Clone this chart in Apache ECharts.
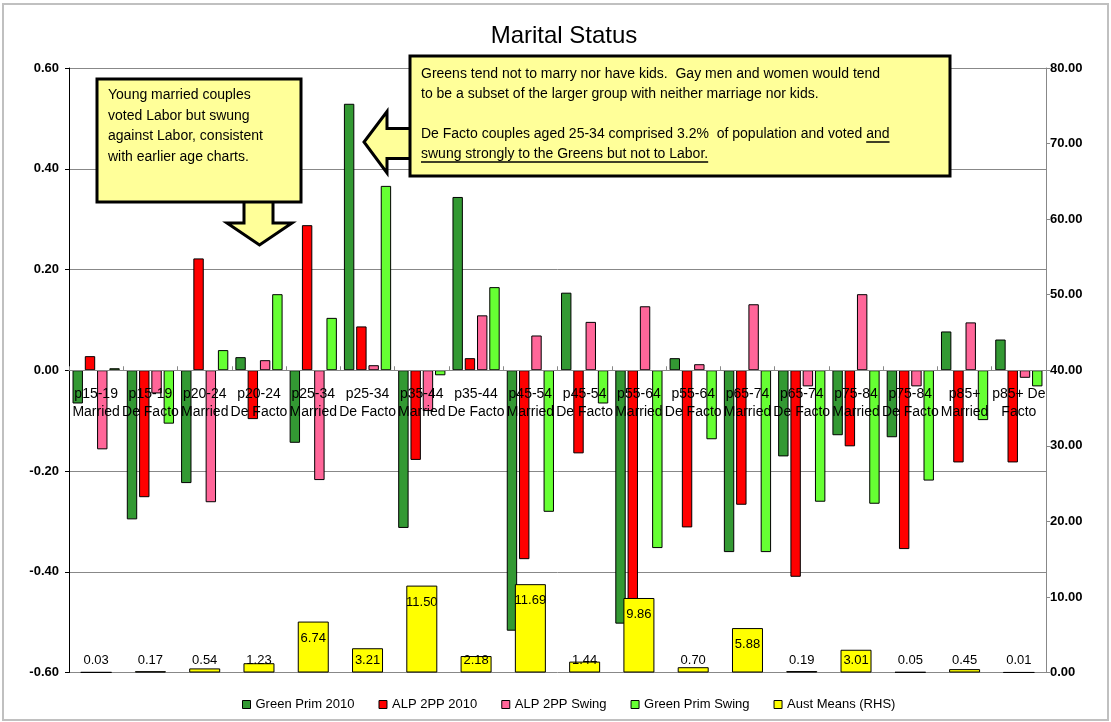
<!DOCTYPE html>
<html>
<head>
<meta charset="utf-8">
<title>Marital Status</title>
<script src="https://cdn.jsdelivr.net/npm/echarts@6/dist/echarts.min.js"></script>
<style>
  html, body { margin: 0; padding: 0; background: #fff; }
  #chart { width: 1111px; height: 722px; }
</style>
</head>
<body>
<div id="chart"></div>
<script>
let categories = [
  'p15-19\nMarried', 'p15-19\nDe Facto', 'p20-24\nMarried', 'p20-24\nDe Facto',
  'p25-34\nMarried', 'p25-34\nDe Facto', 'p35-44\nMarried', 'p35-44\nDe Facto',
  'p45-54\nMarried', 'p45-54\nDe Facto', 'p55-64\nMarried', 'p55-64\nDe Facto',
  'p65-74\nMarried', 'p65-74\nDe Facto', 'p75-84\nMarried', 'p75-84\nDe Facto',
  'p85+\nMarried', 'p85+ De\nFacto',
];
let greenPrim2010 = [-0.066, -0.296, -0.224, 0.026, -0.144, 0.529, -0.313, 0.344, -0.517, 0.154, -0.503, 0.024, -0.361, -0.171, -0.129, -0.133, 0.077, 0.061];
let alp2pp2010 = [0.028, -0.252, 0.222, -0.097, 0.288, 0.087, -0.178, 0.024, -0.375, -0.165, -0.47, -0.312, -0.267, -0.41, -0.151, -0.355, -0.183, -0.183];
let alp2ppSwing = [-0.157, -0.046, -0.262, 0.02, -0.218, 0.01, -0.081, 0.109, 0.069, 0.096, 0.127, 0.012, 0.131, -0.032, 0.151, -0.032, 0.095, -0.015];
let greenPrimSwing = [0.004, -0.106, 0.04, 0.151, 0.104, 0.366, -0.01, 0.165, -0.281, -0.066, -0.353, -0.137, -0.361, -0.261, -0.265, -0.219, -0.099, -0.032];
let austMeans = [0.03, 0.17, 0.54, 1.23, 6.74, 3.21, 11.5, 2.18, 11.69, 1.44, 9.86, 0.7, 5.88, 0.19, 3.01, 0.05, 0.45, 0.01];

let leftNote = [
  'Young married couples',
  'voted Labor but swung',
  'against Labor, consistent',
  'with earlier age charts.',
];
let rightNote = [
  'Greens tend not to marry nor have kids.  Gay men and women would tend',
  'to be a subset of the larger group with neither marriage nor kids.',
  '',
  'De Facto couples aged 25-34 comprised 3.2%  of population and voted ',
  'swung strongly to the Greens but not to Labor.',
];
let rightNoteTail = 'and';

const FONT = '"Liberation Sans", Arial, sans-serif';
const NOTE_FONT = '14px ' + FONT;
const NOTE_FILL = '#ffff99';

// plot box, the category axis sits on the zero line (half way down)
const GRID_TOP = 68;
const GRID_BOTTOM = 49.5;
const ZERO_SHIFT = (722 - GRID_TOP - GRID_BOTTOM) / 2;

function measure(txt) {
  let c = document.createElement('canvas').getContext('2d');
  c.font = NOTE_FONT;
  return c.measureText(txt).width;
}

function fmt2(v) {
  if (Math.abs(v) < 1e-9) v = 0;
  return v.toFixed(2);
}

function noteText(txt, x, y) {
  return {
    type: 'text', z: 101, x: x, y: y,
    style: { text: txt, font: NOTE_FONT, fill: '#000', textVerticalAlign: 'middle' },
  };
}

function underline(x1, x2, y) {
  return {
    type: 'line', z: 101,
    shape: { x1: x1, y1: y, x2: x2, y2: y },
    style: { stroke: '#000', lineWidth: 1.5 },
  };
}

function createNotes() {
  let els = [];
  // outer chart frame
  els.push({
    type: 'rect', z: 90,
    shape: { x: 3, y: 4, width: 1105, height: 716 },
    style: { fill: 'none', stroke: '#c0c0c0', lineWidth: 2 },
  });

  // left callout, arrow first so the box border covers its root
  els.push({
    type: 'polygon', z: 100,
    shape: { points: [[244, 198], [273, 198], [273, 223], [292, 223], [259.5, 245], [227, 223], [244, 223]] },
    style: { fill: NOTE_FILL, stroke: '#000', lineWidth: 3, lineJoin: 'miter' },
  });
  els.push({
    type: 'rect', z: 100,
    shape: { x: 97, y: 79, width: 204, height: 123 },
    style: { fill: NOTE_FILL, stroke: '#000', lineWidth: 3 },
  });
  leftNote.forEach((t, i) => els.push(noteText(t, 108, 95 + i * 20.7)));

  // right callout
  els.push({
    type: 'polygon', z: 100,
    shape: { points: [[414, 128.5], [387, 128.5], [387, 111.5], [364, 142], [387, 173], [387, 158.5], [414, 158.5]] },
    style: { fill: NOTE_FILL, stroke: '#000', lineWidth: 3, lineJoin: 'miter' },
  });
  els.push({
    type: 'rect', z: 100,
    shape: { x: 410, y: 56, width: 540, height: 120 },
    style: { fill: NOTE_FILL, stroke: '#000', lineWidth: 3 },
  });
  rightNote.forEach((t, i) => {
    if (t) els.push(noteText(t, 421, 74 + i * 20));
  });
  let tailX = 421 + measure(rightNote[3]);
  els.push(noteText(rightNoteTail, tailX, 134));
  els.push(underline(tailX, tailX + measure(rightNoteTail), 142));
  els.push(underline(421, 421 + measure(rightNote[4]), 162));
  return els;
}

function barSeries(name, data, color) {
  return {
    name: name,
    type: 'bar',
    xAxisIndex: 0,
    yAxisIndex: 0,
    data: data,
    barCategoryGap: '13%',
    barGap: '18%',
    itemStyle: { color: color, borderColor: '#000', borderWidth: 1 },
  };
}

function createChart(chart) {
  let meansData = austMeans.map(v => ({
    value: v,
    label: v < 4.1
      ? { position: 'insideBottom', distance: 6 }
      : { position: 'insideTop', distance: 10 },
  }));

  let option = {
    animation: false,
    backgroundColor: '#fff',
    textStyle: { fontFamily: FONT },
    title: {
      text: 'Marital Status',
      left: 559,
      textAlign: 'center',
      top: 19,
      textStyle: { fontFamily: FONT, fontSize: 24, fontWeight: 'normal', color: '#000' },
    },
    legend: {
      left: 237,
      top: 693,
      icon: 'rect',
      itemWidth: 8,
      itemHeight: 8,
      itemGap: 24,
      itemStyle: { borderColor: '#000', borderWidth: 1 },
      textStyle: { fontFamily: FONT, fontSize: 13, color: '#000' },
      data: ['Green Prim 2010', 'ALP 2PP 2010', 'ALP 2PP Swing', 'Green Prim Swing', 'Aust Means (RHS)'],
    },
    grid: { left: 69, right: 65, top: GRID_TOP, bottom: GRID_BOTTOM, containLabel: false },
    xAxis: [
      {
        type: 'category',
        data: categories,
        offset: -ZERO_SHIFT,
        z: 10,
        axisLine: { onZero: false, lineStyle: { color: '#888', width: 1 } },
        axisTick: { show: true, inside: true, length: 4, lineStyle: { color: '#888' } },
        axisLabel: {
          interval: 0, margin: 15, color: '#000',
          fontFamily: FONT, fontSize: 14, lineHeight: 18,
        },
        splitLine: { show: false },
      },
      {
        type: 'category',
        data: categories,
        show: false,
      },
    ],
    yAxis: [
      {
        type: 'value',
        min: -0.6,
        max: 0.6,
        interval: 0.2,
        axisLine: { show: true, lineStyle: { color: '#000' } },
        axisTick: { show: true, length: 4, lineStyle: { color: '#000' } },
        axisLabel: {
          formatter: fmt2, margin: 10, color: '#000',
          fontFamily: FONT, fontSize: 13, fontWeight: 'bold',
        },
        splitLine: { show: true, lineStyle: { color: '#888', width: 1 } },
      },
      {
        type: 'value',
        min: 0,
        max: 80,
        interval: 10,
        position: 'right',
        axisLine: { show: true, lineStyle: { color: '#888' } },
        axisTick: { show: true, length: 4, lineStyle: { color: '#888' } },
        axisLabel: {
          formatter: fmt2, margin: 4, color: '#000',
          fontFamily: FONT, fontSize: 13, fontWeight: 'bold',
        },
        splitLine: { show: false },
      },
    ],
    series: [
      barSeries('Green Prim 2010', greenPrim2010, '#339933'),
      barSeries('ALP 2PP 2010', alp2pp2010, '#ff0000'),
      barSeries('ALP 2PP Swing', alp2ppSwing, '#ff6699'),
      barSeries('Green Prim Swing', greenPrimSwing, '#66ff33'),
      {
        name: 'Aust Means (RHS)',
        type: 'bar',
        xAxisIndex: 1,
        yAxisIndex: 1,
        data: meansData,
        barWidth: 31,
        z: 3,
        itemStyle: { color: '#ffff00', borderColor: '#000', borderWidth: 1 },
        label: {
          show: true,
          color: '#000',
          fontFamily: FONT,
          fontSize: 13,
          formatter: p => p.value.toFixed(2),
        },
      },
    ],
    graphic: { elements: createNotes() },
  };

  chart.setOption(option);
}

let chart = echarts.init(document.getElementById('chart'), null, { renderer: 'canvas' });
createChart(chart);
</script>
</body>
</html>
